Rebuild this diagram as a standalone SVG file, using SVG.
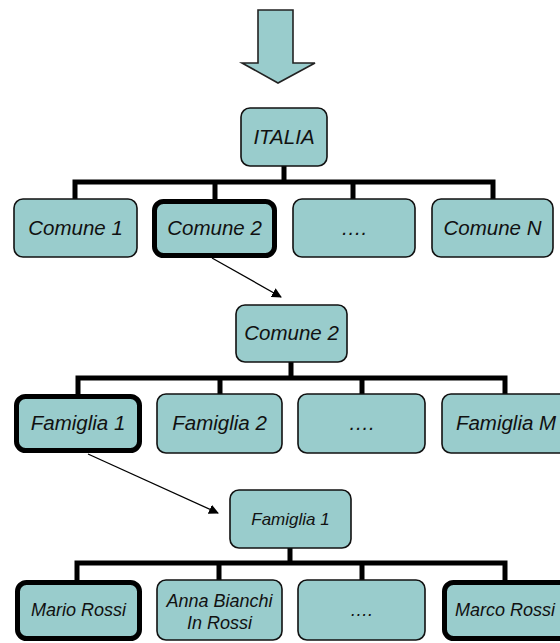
<svg xmlns="http://www.w3.org/2000/svg" width="560" height="643" viewBox="0 0 560 643">
<defs>
<style>
.box{fill:#99cccc;stroke:#111;stroke-width:1.6}
.thick{fill:#99cccc;stroke:#000;stroke-width:5}
.t{font-family:"Liberation Sans",Arial,sans-serif;font-style:italic;fill:#111;text-anchor:middle}
.l{font-size:20.5px}
.s{font-size:17px}
.p{font-size:18px}
.bar{stroke:#000;stroke-width:5;fill:none}
.arr{stroke:#000;stroke-width:1.3;fill:none;marker-end:url(#ah)}
</style>
<marker id="ah" viewBox="0 0 10 10" refX="9" refY="5" markerWidth="10" markerHeight="10" markerUnits="userSpaceOnUse" orient="auto">
<path d="M0,0 L10,5 L0,10 z" fill="#000"/>
</marker>
</defs>
<rect width="560" height="643" fill="#fff"/>
<g id="big-arrow"><polygon points="258,10 293,10 293,63 315,63 278,83 242,63 258,63" fill="#99cccc" stroke="#222" stroke-width="1.6"/></g>
<g id="connectors">
<path class="bar" d="M284,166V182M75,201V182H493V201M215,182V201M353,182V201"/>
<path class="bar" d="M291,362V378M78,396V378H505V396M220,378V396M362,378V396"/>
<path class="bar" d="M290,548V563M77,582V563H505V582M219,563V582M362,563V582"/>
<line class="arr" x1="212" y1="258" x2="281" y2="297"/>
<line class="arr" x1="88" y1="454" x2="218" y2="513"/>
</g>
<g id="italia"><rect class="box" x="241" y="108" width="86" height="58" rx="9"/><text class="t l" x="284" y="144">ITALIA</text></g>
<g id="comune1"><rect class="box" x="14" y="199" width="123" height="58" rx="9"/><text class="t l" x="75.5" y="235">Comune 1</text></g>
<g id="comune2"><rect class="thick" x="154.5" y="201.5" width="120" height="54" rx="9"/><text class="t l" x="214.5" y="235">Comune 2</text></g>
<g id="comune-dots"><rect class="box" x="293" y="199" width="122" height="58" rx="9"/><text class="t l" x="354" y="235">….</text></g>
<g id="comuneN"><rect class="box" x="432" y="199" width="121" height="58" rx="9"/><text class="t l" x="492.5" y="235">Comune N</text></g>
<g id="comune2-b"><rect class="box" x="236" y="305" width="111" height="57" rx="9"/><text class="t l" x="291.5" y="340">Comune 2</text></g>
<g id="famiglia1"><rect class="thick" x="16.5" y="396.5" width="123" height="54" rx="9"/><text class="t l" x="78" y="430">Famiglia 1</text></g>
<g id="famiglia2"><rect class="box" x="157" y="394" width="125" height="59" rx="9"/><text class="t l" x="219.5" y="430">Famiglia 2</text></g>
<g id="famiglia-dots"><rect class="box" x="298" y="394" width="127" height="59" rx="9"/><text class="t l" x="361.5" y="430">….</text></g>
<g id="famigliaM"><rect class="box" x="442" y="394" width="128" height="59" rx="9"/><text class="t l" x="506" y="430">Famiglia M</text></g>
<g id="famiglia1-b"><rect class="box" x="230" y="490" width="121" height="58" rx="9"/><text class="t s" x="290.5" y="525">Famiglia 1</text></g>
<g id="mario"><rect class="thick" x="17.5" y="582.5" width="122" height="56" rx="9"/><text class="t p" x="78.5" y="616">Mario Rossi</text></g>
<g id="anna"><rect class="box" x="157" y="580" width="125" height="60" rx="9"/><text class="t p" x="219.5" y="607">Anna Bianchi</text><text class="t p" x="219.5" y="629">In Rossi</text></g>
<g id="persona-dots"><rect class="box" x="298" y="580" width="127" height="60" rx="9"/><text class="t p" x="361.5" y="616">….</text></g>
<g id="marco"><rect class="thick" x="444.5" y="582.5" width="124" height="56" rx="9"/><text class="t p" x="505" y="616">Marco Rossi</text></g>
</svg>
